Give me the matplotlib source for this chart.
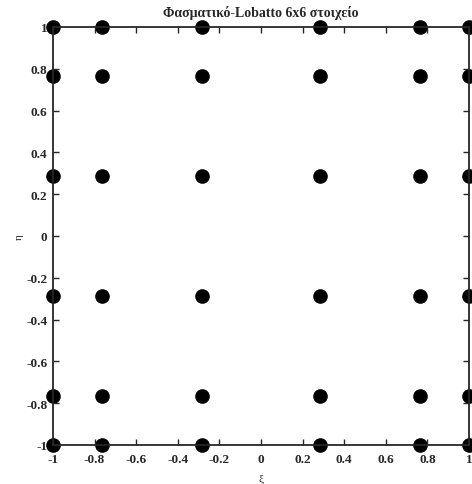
import matplotlib.pyplot as plt
import numpy as np

# Gauss-Lobatto-Legendre nodes for a 6-point (N=5) element
nodes = [-1.0, -0.765055, -0.285232, 0.285232, 0.765055, 1.0]
tick_values = [-1, -0.8, -0.6, -0.4, -0.2, 0, 0.2, 0.4, 0.6, 0.8, 1]
tick_labels = ["-1", "-0.8", "-0.6", "-0.4", "-0.2", "0", "0.2", "0.4", "0.6", "0.8", "1"]
title = "Φασματικό-Lobatto 6x6 στοιχείο"

plt.rcParams["font.family"] = ["Liberation Serif", "DejaVu Serif"]
ink = "#262626"

xi, eta = np.meshgrid(nodes, nodes)

fig = plt.figure(figsize=(4.72, 4.85), dpi=100)
ax = fig.add_axes([53 / 472, 1 - 446 / 485, 416 / 472, 418 / 485])
ax.plot(xi.ravel(), eta.ravel(), "o", color="black", markersize=9.5, clip_on=False, zorder=1)

ax.set_xlim(-1, 1)
ax.set_ylim(-1, 1)
ax.set_xticks(tick_values)
ax.set_xticklabels(tick_labels)
ax.set_yticks(tick_values)
ax.set_yticklabels(tick_labels)
ax.tick_params(direction="in", top=True, right=True, length=4, width=1,
               colors=ink, labelsize=9.5)
ax.tick_params(axis="x", pad=6)
ax.tick_params(axis="y", pad=4)
for lab in ax.get_xticklabels() + ax.get_yticklabels():
    lab.set_fontweight("bold")
    lab.set_zorder(5)
for sp in ax.spines.values():
    sp.set_linewidth(1.3)
    sp.set_color(ink)

ax.set_title(title, fontsize=10, fontweight="bold", color=ink, pad=8)
ax.set_xlabel("ξ", fontsize=8, color=ink, labelpad=6)
ax.set_ylabel("η", fontsize=8, color=ink, labelpad=2)

fig.savefig("out.png", dpi=100)
